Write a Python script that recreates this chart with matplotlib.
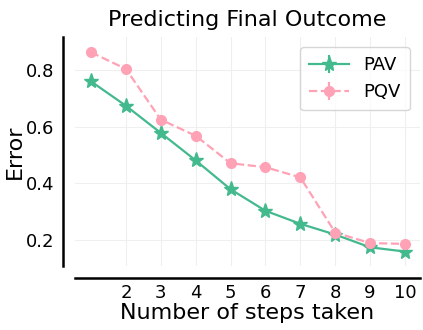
import matplotlib.pyplot as plt
import numpy as np

steps = [1, 2, 3, 4, 5, 6, 7, 8, 9, 10]
pav_err = [0.760, 0.674, 0.578, 0.481, 0.379, 0.303, 0.257, 0.219, 0.174, 0.159]
pqv_err = [0.863, 0.804, 0.625, 0.568, 0.471, 0.457, 0.421, 0.226, 0.189, 0.186]
xticks = [2, 3, 4, 5, 6, 7, 8, 9, 10]
yticks = [0.2, 0.4, 0.6, 0.8]

green = '#43b98e'
pink = '#ffa2b6'

fig = plt.figure(figsize=(4.23, 3.30), dpi=100)
ax = fig.add_axes([75 / 423, 1 - 266 / 330, 345 / 423, 229 / 330])

ax.errorbar(steps, pav_err, yerr=np.zeros(len(steps)), color=green, marker='*',
            markersize=11, linewidth=1.6, linestyle='-', label='PAV')
ax.errorbar(steps, pqv_err, yerr=np.zeros(len(steps)), color=pink, marker='o',
            markersize=7, linewidth=1.6, linestyle='--', label='PQV')

ax.set_xlim(0.54, 10.43)
ax.set_ylim(0.108, 0.917)
ax.set_xticks(xticks)
ax.set_yticks(yticks)
ax.tick_params(length=0, labelsize=13)
ax.tick_params(axis='x', pad=4)
ax.tick_params(axis='y', pad=6)
ax.grid(True, color='#efefef', linewidth=0.8)
ax.set_axisbelow(True)

for side in ['top', 'right']:
    ax.spines[side].set_visible(False)
for side in ['left', 'bottom']:
    ax.spines[side].set_position(('outward', 8.6))
    ax.spines[side].set_linewidth(1.8)

ax.set_xlabel('Number of steps taken', fontsize=16, labelpad=1)
ax.set_ylabel('Error', fontsize=16, labelpad=1)
ax.set_title('Predicting Final Outcome', fontsize=16, pad=8)

ax.legend(loc='upper right', fontsize=13, handlelength=2.2, borderpad=0.5,
          borderaxespad=0, bbox_to_anchor=(0.971, 0.956))

fig.savefig('out.png', dpi=100)
